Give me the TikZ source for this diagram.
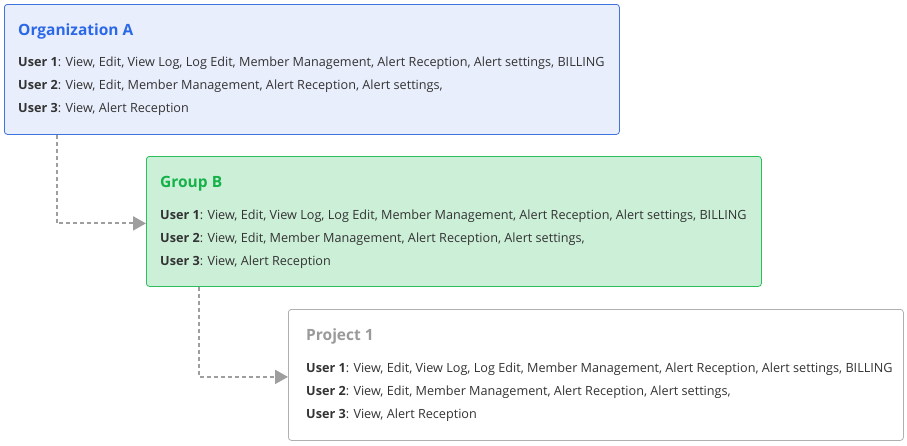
\documentclass[tikz,border=0pt]{standalone}
\usepackage{fontspec}
\setmainfont{Open Sans}
\usepackage{tikz}
\usetikzlibrary{arrows.meta,calc,positioning}
\definecolor{orgfill}{HTML}{E9EEFC}
\definecolor{orgline}{HTML}{3F73DF}
\definecolor{orgtitle}{HTML}{2B68E8}
\definecolor{grpfill}{HTML}{CCEFD8}
\definecolor{grpline}{HTML}{2EBD5B}
\definecolor{grptitle}{HTML}{14B248}
\definecolor{prjline}{HTML}{B0B0B0}
\definecolor{prjtitle}{HTML}{9A9A9A}
\definecolor{txtink}{HTML}{333333}
\definecolor{linkgray}{HTML}{9E9E9E}
\newcommand{\userline}[2]{\textbf{User #1}: #2}
\begin{document}
\begin{tikzpicture}[x=1pt,y=-1pt,line cap=butt,line join=round,
  font=\fontsize{12.65}{23}\selectfont,text=txtink,
  box/.style={rectangle,rounded corners=3pt,line width=0.8pt,
    minimum width=615pt,minimum height=130pt,anchor=north west,inner sep=0pt},
  title/.style={anchor=west,inner sep=0pt,font=\fontsize{15.5}{18}\selectfont\bfseries},
  rows/.style={anchor=north west,inner sep=0pt,align=left},
  link/.style={linkgray,line width=2pt,dash pattern=on 4pt off 3pt,
    -{Triangle[length=13pt,width=14pt]}}]
\path[use as bounding box] (0,0) rectangle (907,445);
\fill[white] (0,0) rectangle (907,445);

% three nested levels
\node[box,fill=orgfill,draw=orgline] (orgA) at (4,4) {};
\node[box,fill=grpfill,draw=grpline] (groupB) at (146,156) {};
\node[box,fill=white,draw=prjline,minimum height=131pt] (proj1) at (288,309) {};

% titles
\node[title,text=orgtitle] (orgAtitle) at ($(orgA.north west)+(14,27)$) {Organization A};
\node[title,text=grptitle] (groupBtitle) at ($(groupB.north west)+(14,28)$) {Group B};
\node[title,text=prjtitle] (proj1title) at ($(proj1.north west)+(18,27)$) {Project 1};

% permissions per user
\foreach \lvl/\dx/\dy in {orgA/14/53,groupB/14/54,proj1/18/54} {
  \node[rows] (\lvl rows) at ($(\lvl.north west)+(\dx,\dy)$) {%
    \userline{1}{View, Edit, View Log, Log Edit, Member Management, Alert Reception, Alert settings, BILLING}\\
    \userline{2}{View, Edit, Member Management, Alert Reception, Alert settings,}\\
    \userline{3}{View, Alert Reception}};
}

% inheritance
\draw[link] ($(orgA.south west)+(53,0)$) |- ($(groupB.west)+(0,2)$);
\draw[link] ($(groupB.south west)+(53,0)$) |- ($(proj1.west)+(0,2)$);
\end{tikzpicture}
\end{document}
